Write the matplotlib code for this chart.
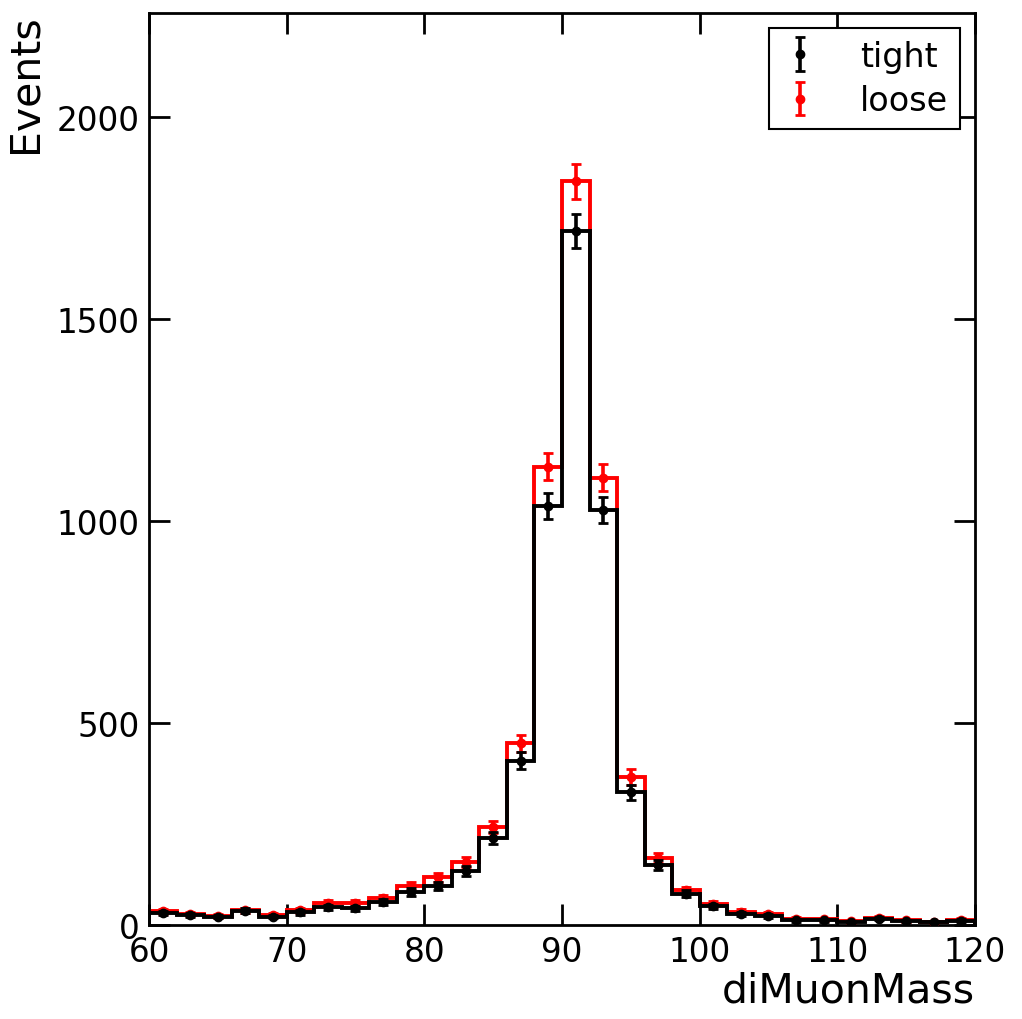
import numpy as np
import matplotlib
matplotlib.use("Agg")
import matplotlib.pyplot as plt

# diMuonMass histogram, 2 GeV bins from 60 to 120
bin_edges = np.arange(60, 122, 2)
tight = [30, 24, 21, 35, 21, 31, 44, 41, 57, 82, 97, 134, 216, 407, 1038, 1718, 1026,
         328, 148, 77, 46, 28, 23, 12, 12, 8, 16, 10, 7, 11]
loose = [34, 28, 23, 37, 24, 37, 55, 55, 66, 97, 118, 155, 242, 450, 1134, 1840, 1107,
         366, 166, 86, 52, 33, 27, 16, 14, 9, 18, 12, 8, 13]

centers = 0.5 * (bin_edges[:-1] + bin_edges[1:])

fig = plt.figure(figsize=(10.22, 10.2), dpi=100)
ax = fig.add_axes([149 / 1022, 1 - 926 / 1020, 826 / 1022, 912 / 1020])

# tight on top of loose
ax.stairs(loose, bin_edges, color="red", lw=2.8, zorder=2)
ax.stairs(tight, bin_edges, color="black", lw=2.8, zorder=4)
ax.errorbar(centers, tight, yerr=np.sqrt(tight), fmt="o", color="black", ms=6,
            elinewidth=2.6, capsize=3.5, capthick=2, label="tight", zorder=5)
ax.errorbar(centers, loose, yerr=np.sqrt(loose), fmt="o", color="red", ms=6,
            elinewidth=2.6, capsize=3.5, capthick=2, label="loose", zorder=3)

ax.set_xlim(60, 120)
ax.set_ylim(0, 2257)
ax.set_xticks([60, 70, 80, 90, 100, 110, 120])
ax.set_yticks([0, 500, 1000, 1500, 2000])

ax.tick_params(which="major", direction="in", length=15, width=2, top=True, right=True,
               labelsize=23.5, pad=7)
for sp in ax.spines.values():
    sp.set_linewidth(2)

ax.set_xlabel("diMuonMass", fontsize=29.5, loc="right", labelpad=2)
ax.set_ylabel("Events", fontsize=29.5, loc="top", labelpad=8)

leg = ax.legend(loc="upper right", fontsize=24, frameon=True, fancybox=False,
                edgecolor="black", framealpha=1, borderaxespad=0.45,
                handlelength=1.2, handletextpad=1.2, borderpad=0.35, labelspacing=0.35)
leg.get_frame().set_linewidth(1.5)

fig.savefig("out.png", dpi=100)
